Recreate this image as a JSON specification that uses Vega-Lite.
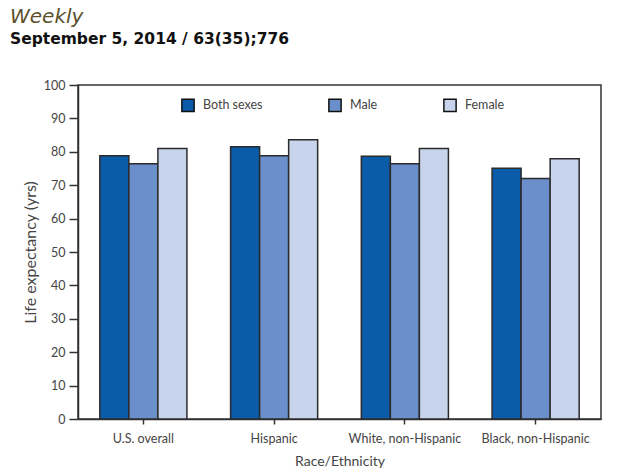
{
  "$schema": "https://vega.github.io/schema/vega-lite/v6.json",
  "autosize": "none",
  "width": 523,
  "height": 334,
  "padding": {"left": 78, "top": 85, "right": 19, "bottom": 56},
  "background": "white",
  "title": {
    "text": "Weekly",
    "subtitle": "September 5, 2014 / 63(35);776",
    "anchor": "start",
    "frame": "group",
    "dx": -68,
    "offset": 32,
    "font": "DejaVu Sans",
    "fontSize": 20,
    "fontStyle": "italic",
    "fontWeight": "normal",
    "color": "#5b4f2c",
    "subtitleFont": "DejaVu Sans",
    "subtitleFontSize": 15.5,
    "subtitleFontWeight": "bold",
    "subtitleColor": "#111111",
    "subtitlePadding": 5
  },
  "data": {
    "values": [
      {"group": "U.S. overall", "sex": "Both sexes", "value": 78.8},
      {"group": "U.S. overall", "sex": "Male", "value": 76.4},
      {"group": "U.S. overall", "sex": "Female", "value": 81.0},
      {"group": "Hispanic", "sex": "Both sexes", "value": 81.5},
      {"group": "Hispanic", "sex": "Male", "value": 78.8},
      {"group": "Hispanic", "sex": "Female", "value": 83.6},
      {"group": "White, non-Hispanic", "sex": "Both sexes", "value": 78.7},
      {"group": "White, non-Hispanic", "sex": "Male", "value": 76.4},
      {"group": "White, non-Hispanic", "sex": "Female", "value": 81.0},
      {"group": "Black, non-Hispanic", "sex": "Both sexes", "value": 75.1},
      {"group": "Black, non-Hispanic", "sex": "Male", "value": 72.0},
      {"group": "Black, non-Hispanic", "sex": "Female", "value": 77.9}
    ]
  },
  "mark": {"type": "bar", "stroke": "#2b2b2b", "strokeWidth": 1.5},
  "encoding": {
    "x": {
      "field": "group",
      "type": "nominal",
      "sort": ["U.S. overall", "Hispanic", "White, non-Hispanic", "Black, non-Hispanic"],
      "scale": {"paddingInner": 0.334, "paddingOuter": 0.167},
      "axis": {
        "title": "Race/Ethnicity",
        "labelAngle": 0,
        "domainColor": "#333333",
        "domainWidth": 1.5,
        "tickColor": "#333333",
        "tickWidth": 1.5,
        "tickSize": 5,
        "labelPadding": 8,
        "titlePadding": 10,
        "labelFont": "Lato",
        "labelFontSize": 12.5,
        "labelColor": "#444444",
        "titleFont": "Lato",
        "titleFontSize": 14,
        "titleFontWeight": "normal",
        "titleColor": "#444444"
      }
    },
    "xOffset": {
      "field": "sex",
      "type": "nominal",
      "sort": ["Both sexes", "Male", "Female"],
      "scale": {"paddingInner": 0, "paddingOuter": 0}
    },
    "y": {
      "field": "value",
      "type": "quantitative",
      "scale": {"domain": [0, 100], "nice": false},
      "axis": {
        "title": "Life expectancy (yrs)",
        "values": [0, 10, 20, 30, 40, 50, 60, 70, 80, 90, 100],
        "grid": false,
        "domainColor": "#333333",
        "domainWidth": 1.5,
        "tickColor": "#333333",
        "tickWidth": 1.5,
        "tickSize": 9,
        "labelPadding": 4,
        "titlePadding": 5,
        "labelFont": "Lato",
        "labelFontSize": 12.5,
        "labelColor": "#444444",
        "titleFont": "Lato",
        "titleFontSize": 16,
        "titleFontWeight": "normal",
        "titleColor": "#444444"
      }
    },
    "color": {
      "field": "sex",
      "type": "nominal",
      "sort": ["Both sexes", "Male", "Female"],
      "scale": {
        "domain": ["Both sexes", "Male", "Female"],
        "range": ["#0a5ca8", "#6a8fca", "#c8d4ec"]
      },
      "legend": {
        "title": null,
        "orient": "none",
        "direction": "horizontal",
        "legendX": 103,
        "legendY": 13,
        "symbolType": "square",
        "symbolSize": 150,
        "symbolStrokeColor": "#111111",
        "symbolStrokeWidth": 1.5,
        "symbolOpacity": 1,
        "columnPadding": 62,
        "labelFont": "Lato",
        "labelFontSize": 12.5,
        "labelColor": "#444444",
        "labelOffset": 8
      }
    }
  },
  "config": {
    "view": {"stroke": "#333333", "strokeWidth": 1.5}
  }
}
